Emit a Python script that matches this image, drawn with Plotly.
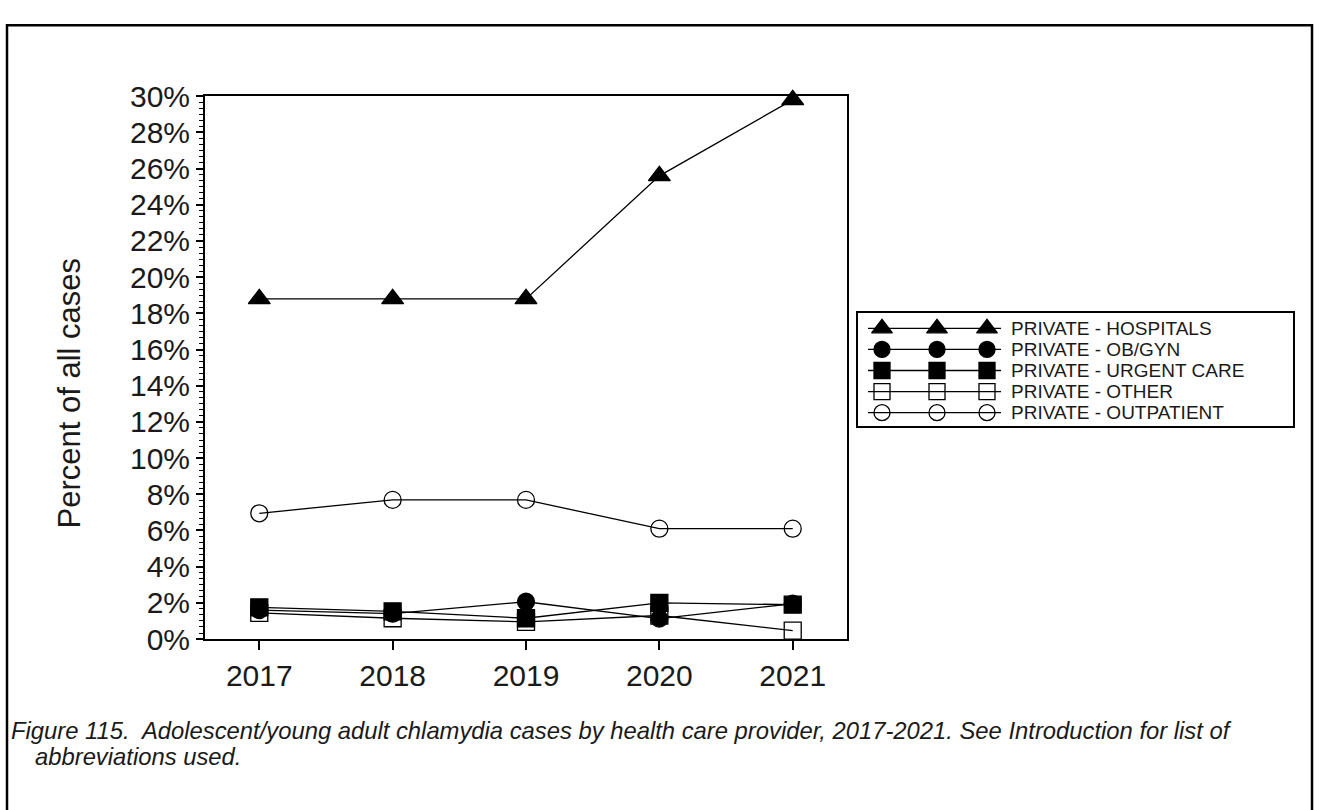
import plotly.graph_objects as go

W, H = 1319, 810

years = [2017, 2018, 2019, 2020, 2021]
series_names = [
    "PRIVATE - HOSPITALS",
    "PRIVATE - OB/GYN",
    "PRIVATE - URGENT CARE",
    "PRIVATE - OTHER",
    "PRIVATE - OUTPATIENT",
]
hospitals = [18.8, 18.8, 18.8, 25.6, 29.8]
obgyn = [1.6, 1.4, 2.06, 1.13, 1.95]
urgent_care = [1.75, 1.53, 1.15, 2.0, 1.9]
other = [1.45, 1.15, 0.95, 1.3, 0.47]
outpatient = [6.95, 7.69, 7.69, 6.1, 6.1]
y_ticks = list(range(0, 31, 2))
y_tick_labels = [f"{v}%" for v in y_ticks]

series_values = [hospitals, obgyn, urgent_care, other, outpatient]
symbols = ["triangle-up", "circle", "square", "square-open", "circle-open"]
sizes = [19, 17, 17, 17, 17]

FONT = "Liberation Sans, Arial, sans-serif"
TXT = "#1a1a1a"

def px_x(p):
    return p / W

def px_y(p):
    return 1 - p / H

# main plot area in pixels
PL, PR, PT, PB = 205, 847, 82.7, 649.3
# legend box in pixels
LL, LR, LT, LB = 858, 1293, 309, 427

fig = go.Figure()

for name, vals, sym, sz in zip(series_names, series_values, symbols, sizes):
    fig.add_trace(go.Scatter(
        x=years, y=vals, name=name, mode="lines+markers",
        line=dict(color="black", width=1.3),
        marker=dict(symbol=sym, size=sz, color="black",
                    line=dict(color="black", width=1.3)),
        showlegend=False, cliponaxis=False,
    ))

# custom legend (three markers per key, like the original)
key_x = [882, 937, 987]
for i, (name, sym, sz) in enumerate(zip(series_names, symbols, sizes)):
    fig.add_trace(go.Scatter(
        x=[868, 1001], y=[i, i], mode="lines",
        line=dict(color="black", width=1.3),
        xaxis="x2", yaxis="y2", showlegend=False, hoverinfo="skip",
    ))
    fig.add_trace(go.Scatter(
        x=key_x, y=[i] * 3, mode="markers",
        marker=dict(symbol=sym, size=sz - 1, color="black",
                    line=dict(color="black", width=1.3)),
        xaxis="x2", yaxis="y2", showlegend=False, hoverinfo="skip",
        cliponaxis=False,
    ))
    fig.add_annotation(
        x=1009, y=i, xref="x2", yref="y2", text=name, showarrow=False,
        xanchor="left", yanchor="middle",
        font=dict(family=FONT, size=19, color=TXT),
    )

row_top, row_step = 325, 22
fig.update_layout(
    width=W, height=H,
    margin=dict(l=0, r=0, t=0, b=0),
    paper_bgcolor="white", plot_bgcolor="white",
    xaxis=dict(
        domain=[px_x(PL), px_x(PR)],
        range=[2016.593, 2021.407],
        tickvals=years, ticktext=[str(y) for y in years],
        ticks="outside", ticklen=9, tickwidth=1.5, tickcolor="black",
        showline=True, linecolor="black", linewidth=2, mirror=True,
        showgrid=False, zeroline=False,
        tickfont=dict(family=FONT, size=30, color=TXT),
    ),
    yaxis=dict(
        domain=[px_y(PB), px_y(PT)],
        range=[0, 30],
        tickvals=y_ticks, ticktext=y_tick_labels,
        ticks="outside", ticklen=7, tickwidth=1.5, tickcolor="black",
        minor=dict(dtick=1 / 3, ticks="outside", ticklen=4, tickwidth=1, tickcolor="black"),
        showline=True, linecolor="black", linewidth=2, mirror=True,
        showgrid=False, zeroline=False,
        tickfont=dict(family=FONT, size=30, color=TXT),
    ),
    xaxis2=dict(
        domain=[px_x(LL), px_x(LR)], range=[LL, LR], anchor="y2",
        showline=True, linecolor="black", linewidth=1.5, mirror=True,
        showgrid=False, zeroline=False, showticklabels=False, ticks="",
    ),
    yaxis2=dict(
        domain=[px_y(LB), px_y(LT)],
        range=[(LB - row_top) / row_step, (LT - row_top) / row_step],
        anchor="x2",
        showline=True, linecolor="black", linewidth=1.5, mirror=True,
        showgrid=False, zeroline=False, showticklabels=False, ticks="",
    ),
    showlegend=False,
)

# y-axis title
fig.add_annotation(
    x=px_x(70), y=px_y(393), xref="paper", yref="paper",
    text="Percent of all cases", textangle=-90, showarrow=False,
    xanchor="center", yanchor="middle",
    font=dict(family=FONT, size=31, color=TXT),
)

# caption
fig.add_annotation(
    x=px_x(9), y=px_y(745), xref="paper", yref="paper",
    text="<i>Figure 115.  Adolescent/young adult chlamydia cases by health care provider, 2017-2021. See Introduction for list of</i>",
    showarrow=False, xanchor="left", yanchor="middle",
    font=dict(family=FONT, size=23.8, color=TXT),
)
fig.add_annotation(
    x=px_x(33), y=px_y(772), xref="paper", yref="paper",
    text="<i>abbreviations used.</i>",
    showarrow=False, xanchor="left", yanchor="middle",
    font=dict(family=FONT, size=23.8, color=TXT),
)

# outer frame
fig.add_shape(
    type="rect", xref="paper", yref="paper",
    x0=px_x(7), x1=px_x(1312), y0=-0.1, y1=px_y(8.5),
    line=dict(color="black", width=2.5), fillcolor="rgba(0,0,0,0)",
)

fig.write_html(
    "out.html",
    config={"displayModeBar": False},
    post_script="document.body.style.margin='0';document.body.style.overflow='hidden';",
)
